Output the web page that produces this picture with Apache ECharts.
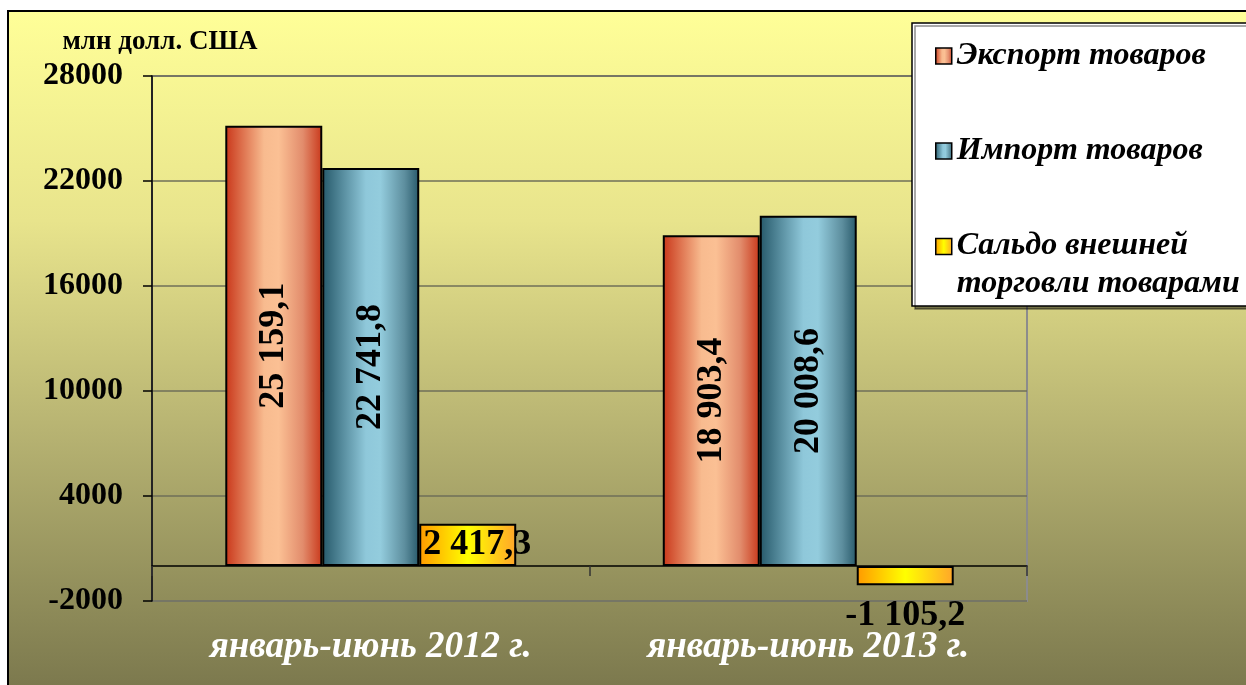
<!DOCTYPE html>
<html>
<head>
<meta charset="utf-8">
<title>Внешняя торговля товарами</title>
<script src="https://cdn.jsdelivr.net/npm/echarts@6/dist/echarts.min.js"></script>
<style>
    html, body { margin: 0; padding: 0; background: #fff; }
    #chart { width: 1246px; height: 685px; }
</style>
</head>
<body>
<div id="chart"></div>
<script>
// data
const categories = ['январь-июнь 2012 г.', 'январь-июнь 2013 г.'];
const seriesNames = ['Экспорт товаров', 'Импорт товаров', 'Сальдо внешней торговли товарами'];
const exportValues = [25159.1, 18903.4];
const importValues = [22741.8, 20008.6];
const balanceValues = [2417.3, -1105.2];
const yTicks = [-2000, 4000, 10000, 16000, 22000, 28000];
const unitLabel = 'млн долл. США';

const serif = "'Liberation Serif', 'Times New Roman', serif";

// 25159.1 -> "25 159,1"
function fmt(v) {
    const parts = Math.abs(v).toFixed(1).split('.');
    const whole = parts[0].replace(/\B(?=(\d{3})+(?!\d))/g, ' ');
    return (v < 0 ? '-' : '') + whole + ',' + parts[1];
}

function hGrad(stops) {
    return new echarts.graphic.LinearGradient(0, 0, 1, 0,
        stops.map(s => ({ offset: s[0], color: s[1] })));
}

const colors = {
    export: hGrad([[0, '#C9371A'], [0.4, '#F8BB8F'], [0.55, '#FBC094'], [0.8, '#E28C6C'], [1, '#C9381B']]),
    import: hGrad([[0, '#26596A'], [0.45, '#8FC8DA'], [0.6, '#93CCDD'], [0.85, '#5D8E9E'], [1, '#28596A']]),
    balance: hGrad([[0, '#FF9900'], [0.5, '#FFFF00'], [1, '#FFA52A']])
};

const barLabel = {
    show: true,
    position: 'inside',
    rotate: 90,
    color: '#000',
    fontFamily: serif,
    fontWeight: 'bold',
    fontSize: 36,
    formatter: p => fmt(p.value)
};

const legendFont = { fontFamily: serif, fontStyle: 'italic', fontWeight: 'bold', fontSize: 32, color: '#000' };

const chart = echarts.init(document.getElementById('chart'), null, { renderer: 'canvas' });

chart.setOption({
    animation: false,
    textStyle: { fontFamily: serif },
    graphic: [{
        type: 'rect',
        z: -10,
        shape: { x: 8, y: 11, width: 1260, height: 700 },
        style: {
            fill: new echarts.graphic.LinearGradient(0, 0, 0, 1, [
                { offset: 0, color: '#FFFF98' },
                { offset: 0.3, color: '#E8E48C' },
                { offset: 0.6, color: '#B7B372' },
                { offset: 0.85, color: '#8E8B59' },
                { offset: 1, color: '#76734A' }
            ]),
            stroke: '#000',
            lineWidth: 2
        }
    }],
    grid: {
        left: 152,
        right: 219,
        top: 76,
        bottom: 84,
        outerBoundsMode: 'none',
        show: true,
        backgroundColor: 'transparent',
        borderColor: '#8C8C8C',
        borderWidth: 2
    },
    legend: {
        orient: 'vertical',
        left: 912,
        top: 23,
        padding: [17, 40, 6, 23],
        itemGap: 63,
        itemWidth: 16,
        itemHeight: 16,
        backgroundColor: '#fff',
        borderColor: '#000',
        borderWidth: 1.5,
        shadowColor: 'rgba(0,0,0,0.45)',
        shadowOffsetX: 3,
        shadowOffsetY: 3,
        itemStyle: { borderColor: '#000', borderWidth: 1.5 },
        textStyle: Object.assign({}, legendFont, {
            rich: {
                a: Object.assign({}, legendFont, { lineHeight: 75 }),
                b: Object.assign({}, legendFont, { lineHeight: 1 })
            }
        }),
        data: [
            { name: seriesNames[0], icon: 'rect', textStyle: { lineHeight: 30 } },
            { name: seriesNames[1], icon: 'rect', textStyle: { lineHeight: 30 } },
            { name: seriesNames[2], icon: 'rect' }
        ],
        formatter: name => name === seriesNames[2]
            ? '{a|Сальдо внешней}\n{b|торговли товарами}'
            : name
    },
    xAxis: {
        type: 'category',
        data: categories,
        axisLine: { onZero: true, lineStyle: { color: '#000', width: 1.5 } },
        axisTick: { show: true, length: 10, lineStyle: { color: '#333', width: 1.5 } },
        axisLabel: {
            color: '#fff',
            fontFamily: serif,
            fontStyle: 'italic',
            fontWeight: 'bold',
            fontSize: 37,
            margin: 28
        },
        splitLine: { show: false }
    },
    yAxis: {
        type: 'value',
        min: -2000,
        max: 28000,
        name: unitLabel,
        nameLocation: 'end',
        nameGap: 20,
        nameTextStyle: {
            color: '#000',
            fontFamily: serif,
            fontWeight: 'bold',
            fontSize: 27,
            align: 'center',
            padding: [0, 0, 0, 16]
        },
        axisLine: { show: true, lineStyle: { color: '#000', width: 1.5 } },
        axisTick: { show: true, length: 9, customValues: yTicks, lineStyle: { color: '#000', width: 1.5 } },
        axisLabel: {
            customValues: yTicks,
            formatter: v => String(v),
            color: '#000',
            fontFamily: serif,
            fontWeight: 'bold',
            fontSize: 32,
            margin: 29
        },
        splitLine: { show: true, lineStyle: { color: '#6F6F58', width: 1.5 } }
    },
    series: [
        {
            name: seriesNames[0],
            type: 'bar',
            data: exportValues,
            barGap: '0%',
            barCategoryGap: '33.5%',
            itemStyle: { color: colors.export, borderColor: '#000', borderWidth: 2 },
            label: barLabel
        },
        {
            name: seriesNames[1],
            type: 'bar',
            data: importValues,
            itemStyle: { color: colors.import, borderColor: '#000', borderWidth: 2 },
            label: barLabel
        },
        {
            name: seriesNames[2],
            type: 'bar',
            data: balanceValues.map(v => ({
                value: v,
                label: v >= 0
                    ? { position: 'insideLeft', distance: 4 }
                    : { position: 'bottom', distance: 12 }
            })),
            itemStyle: { color: colors.balance, borderColor: '#000', borderWidth: 2 },
            label: {
                show: true,
                color: '#000',
                fontFamily: serif,
                fontWeight: 'bold',
                fontSize: 36,
                formatter: p => fmt(p.value)
            }
        }
    ]
});

window.addEventListener('resize', () => chart.resize());
</script>
</body>
</html>
